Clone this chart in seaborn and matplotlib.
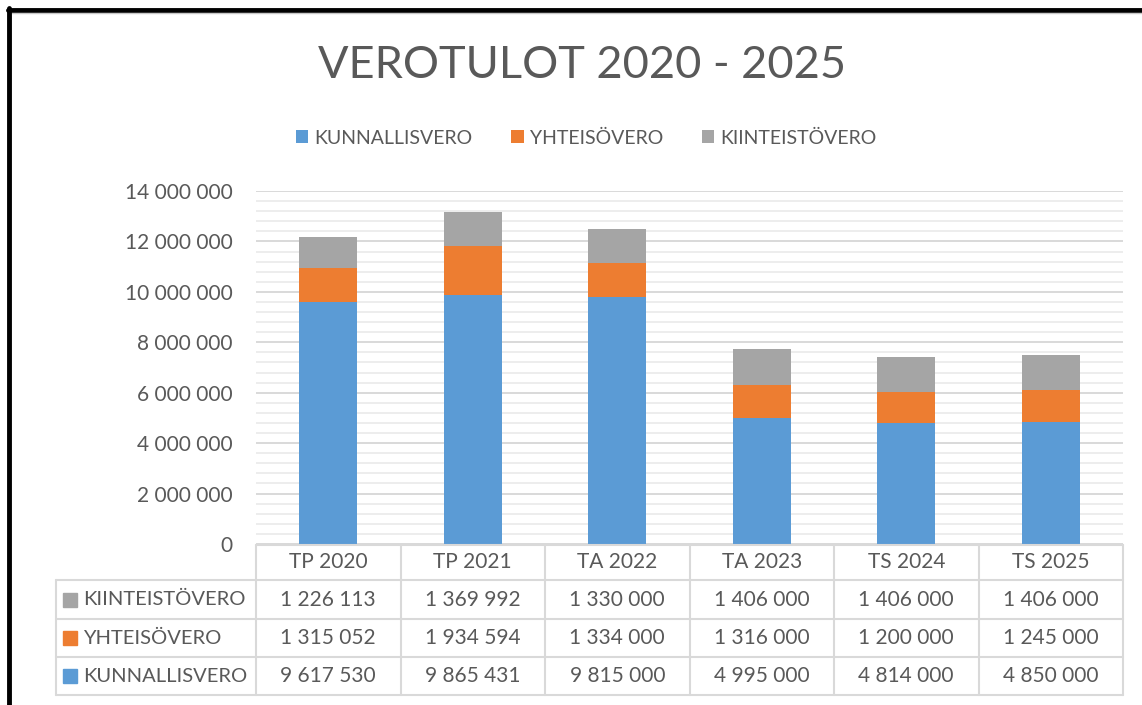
import numpy as np
import pandas as pd
import matplotlib
matplotlib.use("Agg")
import matplotlib.pyplot as plt
from matplotlib.lines import Line2D
from matplotlib.patches import Rectangle, Patch
from matplotlib.ticker import MultipleLocator, FuncFormatter
import seaborn as sns

# data
vuodet = ["TP 2020", "TP 2021", "TA 2022", "TA 2023", "TS 2024", "TS 2025"]
kunnallisvero = [9617530, 9865431, 9815000, 4995000, 4814000, 4850000]
yhteisovero = [1315052, 1934594, 1334000, 1316000, 1200000, 1245000]
kiinteistovero = [1226113, 1369992, 1330000, 1406000, 1406000, 1406000]

sarjat = ["KUNNALLISVERO", "YHTEISÖVERO", "KIINTEISTÖVERO"]
varit = ["#5B9BD5", "#ED7D31", "#A5A5A5"]

df = pd.DataFrame({"vuosi": vuodet,
                   "KUNNALLISVERO": kunnallisvero,
                   "YHTEISÖVERO": yhteisovero,
                   "KIINTEISTÖVERO": kiinteistovero})
df["k1"] = df["KUNNALLISVERO"]
df["k2"] = df["k1"] + df["YHTEISÖVERO"]
df["k3"] = df["k2"] + df["KIINTEISTÖVERO"]

sns.set_style("white")
plt.rcParams["font.family"] = ["Lato", "DejaVu Sans"]
TXT = "#595959"

W, H = 1142, 705
fig = plt.figure(figsize=(W / 100, H / 100), dpi=100)

def fx(x):
    return x / W

def fy(y):
    return 1 - y / H

ax_l, ax_r, ax_t, ax_b = 256, 1123, 191, 544
ax = fig.add_axes([fx(ax_l), fy(ax_b), fx(ax_r - ax_l), (ax_b - ax_t) / H])

# stacked bars: draw cumulative totals, tallest first
for col, c in zip(["k3", "k2", "k1"], varit[::-1]):
    sns.barplot(data=df, x="vuosi", y=col, color=c, saturation=1, width=0.4,
                errorbar=None, ax=ax, linewidth=0)

ax.set_xlim(-0.5, len(vuodet) - 0.5)
ax.set_ylim(0, 14000000)
ax.yaxis.set_major_locator(MultipleLocator(2000000))
ax.yaxis.set_minor_locator(MultipleLocator(400000))
ax.yaxis.set_major_formatter(FuncFormatter(lambda v, p: f"{int(v):,}".replace(",", " ")))
ax.grid(which="major", axis="y", color="#D9D9D9", lw=1.4)
ax.grid(which="minor", axis="y", color="#EDEDED", lw=1.4)
ax.set_axisbelow(True)
ax.tick_params(axis="y", which="both", length=0, pad=17, labelsize=15, labelcolor=TXT)
ax.set_xticks([])
ax.set_xlabel("")
ax.set_ylabel("")
for s in ax.spines.values():
    s.set_visible(False)

# title
fig.text(fx(582), fy(66), "VEROTULOT 2020 - 2025", ha="center", va="center",
         fontsize=32.5, color=TXT)

# legend
handles = [Patch(facecolor=c, edgecolor="none") for c in varit]
fig.legend(handles, sarjat, loc="center", bbox_to_anchor=(fx(586), fy(138)), ncol=3,
           frameon=False, fontsize=14, labelcolor=TXT, handlelength=0.65,
           handleheight=0.65, handletextpad=0.3, columnspacing=2.0)

# data table
grid_c = "#D9D9D9"
col_w = (ax_r - ax_l) / len(vuodet)
col_x = [ax_l + i * col_w for i in range(len(vuodet) + 1)]
row_y = [545, 580, 619, 657, 695]
lbl_l = 56

def hline(x0, x1, y):
    fig.add_artist(Line2D([fx(x0), fx(x1)], [fy(y), fy(y)], color=grid_c, lw=1.5))

def vline(x, y0, y1):
    fig.add_artist(Line2D([fx(x), fx(x)], [fy(y0), fy(y1)], color=grid_c, lw=1.5))

hline(ax_l, ax_r, row_y[0])
for y in row_y[1:]:
    hline(lbl_l, ax_r, y)
for x in col_x:
    vline(x, row_y[0], row_y[-1])
vline(lbl_l, row_y[1], row_y[-1])

for i, v in enumerate(vuodet):
    fig.text(fx(col_x[i] + col_w / 2), fy((row_y[0] + row_y[1]) / 2), v,
             ha="center", va="center", fontsize=15, color=TXT)

taulu = [("KIINTEISTÖVERO", kiinteistovero, varit[2]),
         ("YHTEISÖVERO", yhteisovero, varit[1]),
         ("KUNNALLISVERO", kunnallisvero, varit[0])]
for r, (nimi, arvot, c) in enumerate(taulu):
    yc = (row_y[r + 1] + row_y[r + 2]) / 2
    fig.add_artist(Rectangle((fx(63), fy(yc + 7)), fx(14), 14 / H, color=c,
                             transform=fig.transFigure))
    fig.text(fx(83), fy(yc), nimi, ha="left", va="center", fontsize=14.5, color=TXT)
    for i, a in enumerate(arvot):
        fig.text(fx(col_x[i] + col_w / 2), fy(yc), f"{a:,}".replace(",", " "),
                 ha="center", va="center", fontsize=15, color=TXT)

# frame lines (top and left)
fig.add_artist(Line2D([fx(8), 1], [fy(10), fy(10)], color="black", lw=3.5))
fig.add_artist(Line2D([fx(8), 1], [fy(13), fy(13)], color="#C8C8C8", lw=1))
fig.add_artist(Line2D([fx(9), fx(9)], [fy(8), 0], color="black", lw=3.5))

fig.savefig("out.png", dpi=100, facecolor="white")
